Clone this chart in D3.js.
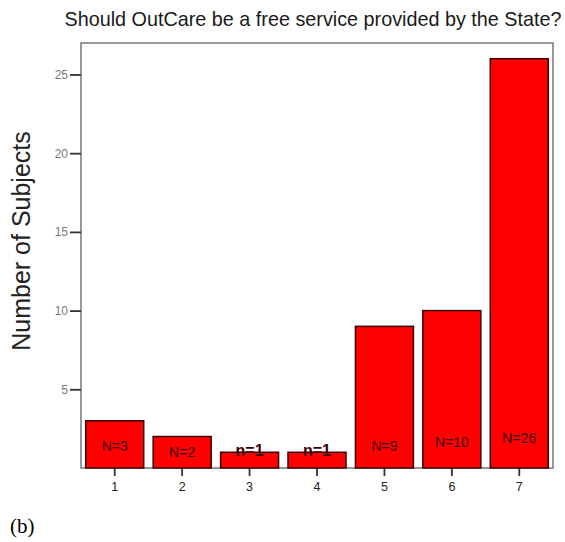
<!DOCTYPE html>
<html><head><meta charset="utf-8">
<script src="https://cdn.jsdelivr.net/npm/d3@7"></script>
<style>body{margin:0;background:#fff}</style>
</head><body>
<svg id="c" width="565" height="542"></svg>
<script>
const categories = ["1","2","3","4","5","6","7"];
const counts = [3, 2, 1, 1, 9, 10, 26];
const barLabels = ["N=3","N=2","n=1","n=1","N=9","N=10","N=26"];
const yTicks = [5, 10, 15, 20, 25];

const svg = d3.select("#c");
const L = 81, R = 553, T = 43, B = 468;
const font = "Liberation Sans, Arial, sans-serif";

const x = d3.scaleBand().domain(categories).range([L, R]).paddingInner(0.14).paddingOuter(0.07);
const y = d3.scaleLinear().domain([0, 27]).range([B, T]);

svg.append("rect").attr("x", L).attr("y", T).attr("width", R - L).attr("height", B - T)
  .attr("fill", "none").attr("stroke", "#555").attr("stroke-width", 1.2);

svg.append("text").attr("x", 313).attr("y", 26).attr("text-anchor", "middle")
  .attr("font-family", font).attr("font-size", 19.8).attr("fill", "#1a1a1a")
  .text("Should OutCare be a free service provided by the State?");

svg.append("text").attr("transform", `translate(30,241) rotate(-90)`)
  .attr("text-anchor", "middle").attr("font-family", font)
  .attr("font-size", 25).attr("fill", "#222").text("Number of Subjects");

const yAxis = svg.append("g").attr("transform", `translate(${L},0)`)
  .call(d3.axisLeft(y).tickValues(yTicks).tickSize(11).tickPadding(2));
yAxis.select(".domain").remove();
yAxis.selectAll("line").attr("stroke", "#333").attr("stroke-width", 1.8);
yAxis.selectAll("text").attr("font-family", font).attr("font-size", 12).attr("fill", "#777");

const xAxis = svg.append("g").attr("transform", `translate(0,${B})`)
  .call(d3.axisBottom(x).tickSize(8).tickPadding(6));
xAxis.select(".domain").remove();
xAxis.selectAll("line").attr("stroke", "#333").attr("stroke-width", 1.8);
xAxis.selectAll("text").attr("font-family", font).attr("font-size", 12.5).attr("fill", "#222");

svg.append("g").selectAll("rect").data(counts).join("rect")
  .attr("x", (d, i) => x(categories[i])).attr("width", x.bandwidth())
  .attr("y", d => y(d)).attr("height", d => B - y(d))
  .attr("fill", "#ff0000").attr("stroke", "#3a0000").attr("stroke-width", 1.5);

svg.append("g").selectAll("text").data(counts).join("text")
  .attr("x", (d, i) => x(categories[i]) + x.bandwidth() / 2)
  .attr("y", (d, i) => d >= 3 ? B - 17 - (d > 20 ? 8 : d >= 10 ? 4 : 0) : d === 2 ? B - 11 : y(d) + 4)
  .attr("text-anchor", "middle").attr("font-family", font)
  .attr("font-size", d => d < 2 ? 16 : 14).attr("fill", "#3a0000")
  .attr("font-weight", (d) => d < 2 ? "bold" : "normal")
  .text((d, i) => barLabels[i]);

svg.append("text").attr("x", 10).attr("y", 533).attr("font-family", "Liberation Serif, Times New Roman, serif")
  .attr("font-size", 21).attr("fill", "#000").text("(b)");
</script>
</body></html>
